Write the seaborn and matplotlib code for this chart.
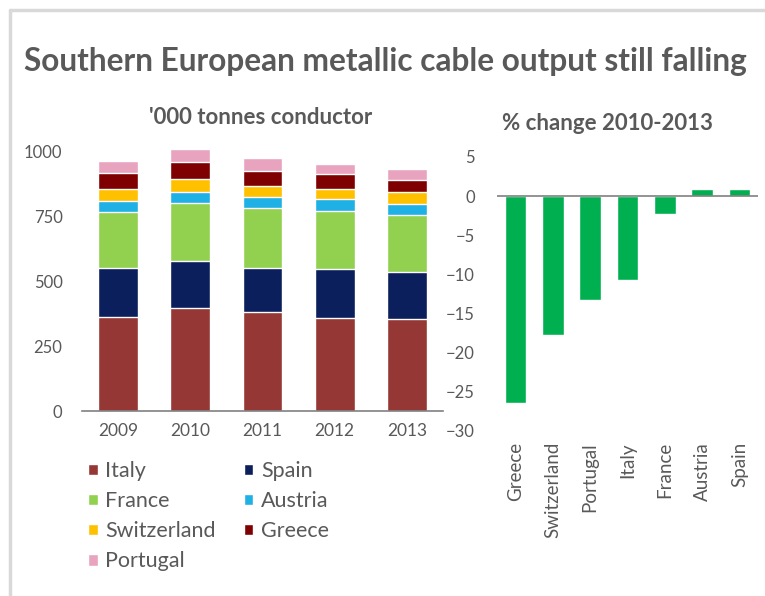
import matplotlib
matplotlib.use("Agg")
import matplotlib.pyplot as plt
from matplotlib.patches import Patch
from matplotlib.lines import Line2D
import numpy as np
import pandas as pd
import seaborn as sns

# stacked output, '000 tonnes conductor
years = ["2009", "2010", "2011", "2012", "2013"]
italy = [364, 396, 383, 357, 354]
spain = [189, 182, 170, 189, 181]
france = [216, 223, 229, 226, 221]
austria = [42, 42, 42, 46, 42]
switzerland = [45, 52, 44, 38, 45]
greece = [63, 64, 59, 57, 48]
portugal = [45, 50, 50, 38, 41]

# % change 2010-2013
change_countries = ["Greece", "Switzerland", "Portugal", "Italy", "France", "Austria", "Spain"]
change_values = [-26.4, -17.7, -13.3, -10.7, -2.3, 0.9, 0.9]

series = [("Italy", italy, "#953735"),
          ("Spain", spain, "#0a1f5c"),
          ("France", france, "#92d050"),
          ("Austria", austria, "#1fb0e6"),
          ("Switzerland", switzerland, "#ffc000"),
          ("Greece", greece, "#7f0000"),
          ("Portugal", portugal, "#e8a3bf")]

sns.set_theme(style="white")
plt.rcParams["font.family"] = ["Lato", "DejaVu Sans"]
text_grey = "#595959"

fig = plt.figure(figsize=(7.65, 5.96), dpi=100)
W, H = 765, 596

def box(x0, y0, x1, y1):
    return [x0 / W, 1 - y1 / H, (x1 - x0) / W, (y1 - y0) / H]

# frame lines (left and top)
fig.add_artist(Line2D([10 / W, 10 / W], [0, 1 - 10 / H], color="#d9d9d9", lw=2.5))
fig.add_artist(Line2D([10 / W, 1], [1 - 10 / H, 1 - 10 / H], color="#d9d9d9", lw=2.5))

fig.text(385 / W, 1 - 62 / H, "Southern European metallic cable output still falling",
         ha="center", va="center", fontsize=22.8, fontweight="bold", color=text_grey)
fig.text(261 / W, 1 - 118 / H, "'000 tonnes conductor", ha="center", va="center",
         fontsize=16, fontweight="bold", color=text_grey)
fig.text(607 / W, 1 - 124 / H, "% change 2010-2013", ha="center", va="center",
         fontsize=16, fontweight="bold", color=text_grey)

# ---- left stacked bars ----
ax1 = fig.add_axes(box(82, 411 - 1050 * 0.2593, 443, 411))
df = pd.DataFrame({name: vals for name, vals, _ in series}, index=years)
cum = df.cumsum(axis=1)
for name, _, color in reversed(series):
    sns.barplot(x=years, y=cum[name].values, color=color, width=0.55,
                saturation=1, ax=ax1, zorder=2)
ax1.set_ylim(0, 1050)
ax1.set_yticks([0, 250, 500, 750, 1000])
ax1.tick_params(axis="y", length=0, pad=14, labelsize=12, labelcolor=text_grey)
ax1.tick_params(axis="x", length=0, pad=9, labelsize=12.5, labelcolor=text_grey)
for s in ["top", "right", "left"]:
    ax1.spines[s].set_visible(False)
ax1.spines["bottom"].set_color("#808080")
ax1.spines["bottom"].set_linewidth(1.2)
ax1.set_xlabel("")
ax1.set_ylabel("")

order = ["Italy", "France", "Switzerland", "Portugal", "Spain", "Austria", "Greece"]
colors = {n: c for n, _, c in series}
handles = [Patch(facecolor=colors[n], label=n) for n in order]
leg = fig.legend(handles=handles, ncol=2, loc="upper left",
                 bbox_to_anchor=(73 / W, 1 - 446 / H), frameon=False,
                 fontsize=15.5, handlelength=0.45, handleheight=0.45,
                 handletextpad=0.35, columnspacing=1.3, labelspacing=0.47,
                 borderpad=0.2)
for t in leg.get_texts():
    t.set_color(text_grey)

# ---- right % change bars ----
ax2 = fig.add_axes(box(497, 196 - 5 * 7.83, 758, 196 + 30 * 7.83))
sns.barplot(x=change_countries, y=change_values, color="#00b050", width=0.58,
            saturation=1, ax=ax2, zorder=2)
ax2.axhline(0, color="#808080", lw=1.2, zorder=3)
ax2.set_ylim(-30, 5)
ax2.set_yticks(np.arange(-30, 6, 5))
ax2.tick_params(axis="y", length=0, pad=16, labelsize=12, labelcolor=text_grey)
ax2.tick_params(axis="x", length=0, pad=8, labelsize=13.5, labelcolor=text_grey,
                labelrotation=90)
for s in ["top", "right", "left", "bottom"]:
    ax2.spines[s].set_visible(False)
ax2.set_xlabel("")
ax2.set_ylabel("")

fig.savefig("out.png", dpi=100)
